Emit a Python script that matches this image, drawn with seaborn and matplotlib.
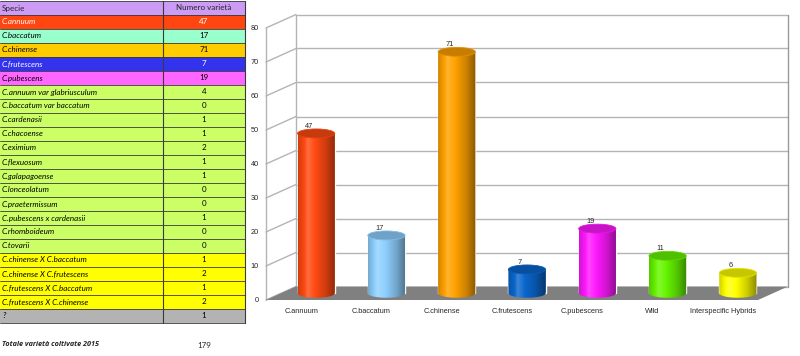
import numpy as np
import pandas as pd
import seaborn as sns
import matplotlib.pyplot as plt
import matplotlib.colors as mcolors
from matplotlib.patches import Rectangle, Ellipse, Polygon, PathPatch
from matplotlib.path import Path

# --- dati della tabella ---
specie = ['C.annuum', 'C.baccatum', 'C.chinense', 'C.frutescens', 'C.pubescens',
          'C.annuum var glabriusculum', 'C.baccatum var baccatum', 'C.cardenasii',
          'C.chacoense', 'C.eximium', 'C.flexuosum', 'C.galapagoense', 'C.lonceolatum',
          'C.praetermissum', 'C.pubescens x cardenasii', 'C.rhomboideum', 'C.tovarii',
          'C.chinense X C.baccatum', 'C.chinense X C.frutescens',
          'C.frutescens X C.baccatum', 'C.frutescens X C.chinense', '?']
varieta = [47, 17, 71, 7, 19, 4, 0, 1, 1, 2, 1, 1, 0, 0, 1, 0, 0, 1, 2, 1, 2, 1]
gruppo = ['annuum', 'baccatum', 'chinense', 'frutescens', 'pubescens'] + ['wild'] * 12 + ['ibridi'] * 4 + ['altro']
colori_tab = {'annuum': '#ff4510', 'baccatum': '#99ffcc', 'chinense': '#ffcc00',
              'frutescens': '#3333ee', 'pubescens': '#ff66ff', 'wild': '#ccff66',
              'ibridi': '#ffff00', 'altro': '#b3b3b3'}
totale = 179

# --- dati del grafico ---
gruppi = ['C.annuum', 'C.baccatum', 'C.chinense', 'C.frutescens', 'C.pubescens',
          'Wild', 'Interspecific Hybrids']
totali = [47, 17, 71, 7, 19, 11, 6]
colori_barre = ['#ff4a12', '#8fd0ff', '#ffa200', '#0a66cc', '#ff19ff', '#66f500', '#ffff00']

sns.set_style('white')
plt.rcParams['font.family'] = ['Liberation Sans', 'DejaVu Sans']

fig = plt.figure(figsize=(8, 3.56), dpi=100)

# ---------------- tabella ----------------
at = fig.add_axes([0, 33 / 356, 245 / 800, 322 / 356])
at.set_xlim(0, 245)
at.set_ylim(len(specie) + 1, 0)
at.axis('off')
tfont = dict(family=['Lato', 'DejaVu Sans'], fontsize=5.8)
at.add_patch(Rectangle((0, 0), 245, 1, facecolor='#cc9cf5', edgecolor='none'))
at.text(2, 0.5, 'Specie', va='center', ha='left', **tfont)
at.text(204, 0.5, 'Numero varietà', va='center', ha='center', **tfont)
for i, (s, v, g) in enumerate(zip(specie, varieta, gruppo)):
    r = i + 1
    at.add_patch(Rectangle((0, r), 245, 1, facecolor=colori_tab[g], edgecolor='none'))
    tc = 'white' if g in ('annuum', 'frutescens') else 'black'
    at.text(2, r + 0.5, s, va='center', ha='left', style='italic', color=tc, **tfont)
    at.text(204, r + 0.5, str(v), va='center', ha='center', color=tc, **tfont)
for r in range(len(specie) + 2):
    at.plot([0, 245], [r, r], color='#3a3a3a', lw=0.6, clip_on=False)
at.plot([163, 163], [0, len(specie) + 1], color='#3a3a3a', lw=0.8, clip_on=False)
at.plot([244.6, 244.6], [0, len(specie) + 1], color='#3a3a3a', lw=0.8, clip_on=False)

fig.text(2 / 800, 1 - 345 / 356, 'Totale varietà coltivate 2015', fontweight='bold',
         style='italic', va='center', ha='left', family=['Open Sans', 'DejaVu Sans'], fontsize=5.2)
fig.text(204 / 800, 1 - 345 / 356, str(totale), va='center', ha='center', **tfont)

# ---------------- grafico cilindri ----------------
ax = fig.add_axes([266 / 800, 56 / 356, 492 / 800, 272 / 356])
df = pd.DataFrame({'gruppo': gruppi, 'totale': totali})
sns.barplot(data=df, x='gruppo', y='totale', hue='gruppo', palette=colori_barre,
            width=0.53, legend=False, ax=ax, zorder=3)
ax.set_xlim(-0.5, 6.5)
ax.set_ylim(0, 80)
for sp in ax.spines.values():
    sp.set_visible(False)
ax.set_xlabel('')
ax.set_ylabel('')
ax.set_yticks(range(0, 81, 10))
ax.tick_params(axis='both', length=0, labelsize=5.3)
ax.tick_params(axis='y', pad=5)
ax.tick_params(axis='x', pad=6)

# profondita' in unita' dati (30 px a destra, 13.5 px in alto)
dx = 30 / (492 / 7)
dy = 13.5 / (272 / 80)
eh = 9 / (272 / 80)
grid = '#b4b4b4'

# parete di fondo e laterale
for v in range(0, 81, 10):
    ax.plot([-0.5 + dx, 6.5 + dx], [v + dy, v + dy], color=grid, lw=1, zorder=0, clip_on=False)
    ax.plot([-0.5, -0.5 + dx], [v, v + dy], color=grid, lw=1, zorder=0, clip_on=False)
ax.plot([-0.5, -0.5], [0, 80], color=grid, lw=1, zorder=0, clip_on=False)
ax.plot([-0.5 + dx, -0.5 + dx], [dy, 80 + dy], color=grid, lw=1, zorder=0, clip_on=False)
ax.plot([6.5 + dx, 6.5 + dx], [dy, 80 + dy], color='#999999', lw=1, zorder=0, clip_on=False)

# pavimento
ax.add_patch(Polygon([(-0.5, 0), (6.5, 0), (6.5 + dx, dy), (-0.5 + dx, dy)],
                     closed=True, facecolor='#808080', edgecolor='none', zorder=1, clip_on=False))


def sfumatura(c):
    base = np.array(mcolors.to_rgb(c))
    t = np.linspace(0, 1, 64)
    s = np.interp(t, [0, 0.25, 0.45, 0.75, 1.0], [0.82, 1.08, 1.0, 0.8, 0.55])
    out = []
    for k in s:
        if k <= 1:
            out.append(base * k)
        else:
            out.append(base + (1 - base) * (k - 1) * 2.5)
    return np.clip(np.array(out), 0, 1)[None, :, :]


for p, v, c in zip(ax.patches, totali, colori_barre):
    x0 = p.get_x() + dx / 2
    w = p.get_width()
    p.set_x(x0)
    p.set_y(dy / 2)
    xc = x0 + w / 2
    y0 = dy / 2
    y1 = v + dy / 2
    # contorno del cilindro: fianchi + arco inferiore
    th = np.linspace(np.pi, 2 * np.pi, 40)
    arco = np.column_stack([xc + w / 2 * np.cos(th), y0 + eh / 2 * np.sin(th)])
    verts = np.vstack([[x0, y1], arco, [x0 + w, y1], [x0, y1]])
    path = PathPatch(Path(verts), facecolor='none', edgecolor='none', transform=ax.transData)
    ax.add_patch(path)
    path.set_clip_on(False)
    im = ax.imshow(sfumatura(c), extent=(x0, x0 + w, y0 - eh / 2, y1), aspect='auto',
                   zorder=4, interpolation='bilinear')
    im.set_clip_path(path)
    top = np.array(mcolors.to_rgb(c)) * 0.78
    ax.add_patch(Ellipse((xc, y1), w, eh, facecolor=top, edgecolor=np.clip(top * 1.15, 0, 1),
                         lw=0.6, zorder=5, clip_on=False))
    ax.text(xc - 0.1, y1 + eh / 2 - 0.3, str(v), ha='center', va='bottom',
            fontsize=5.3, zorder=6)

ax.set_xlim(-0.5, 6.5)
ax.set_ylim(0, 80)

fig.savefig('out.png', dpi=100)
